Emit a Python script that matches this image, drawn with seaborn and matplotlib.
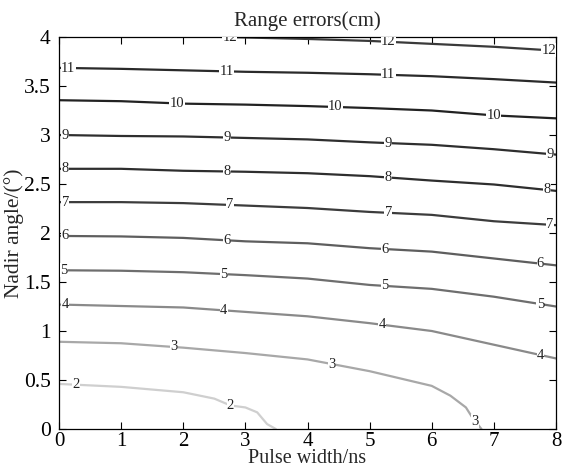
import seaborn as sns
import matplotlib.pyplot as plt
import pandas as pd
import numpy as np

## contour lines of range error (nadir angle in deg at each pulse width)
pulse_width = [0, 1, 2, 3, 4, 5, 6, 7, 8]
level_12 = [4.05, 4.03, 4.01, 3.995, 3.98, 3.96, 3.93, 3.90, 3.86]
level_11 = [3.685, 3.675, 3.66, 3.645, 3.635, 3.62, 3.60, 3.57, 3.535]
level_10 = [3.355, 3.345, 3.32, 3.31, 3.295, 3.275, 3.25, 3.20, 3.17]
level_9 = [3.0, 2.99, 2.985, 2.97, 2.955, 2.925, 2.90, 2.855, 2.80]
level_8 = [2.655, 2.655, 2.635, 2.625, 2.61, 2.58, 2.535, 2.495, 2.43]
level_7 = [2.315, 2.315, 2.305, 2.28, 2.255, 2.215, 2.185, 2.12, 2.08]
level_6 = [1.97, 1.965, 1.95, 1.915, 1.895, 1.845, 1.81, 1.74, 1.67]
level_5 = [1.62, 1.615, 1.60, 1.57, 1.535, 1.47, 1.43, 1.35, 1.25]
level_4 = [1.27, 1.255, 1.24, 1.195, 1.15, 1.08, 1.0, 0.86, 0.72]
# the two lowest levels bend down to the x axis
pulse_width_3 = [0, 1, 2, 3, 4, 5, 6, 6.3, 6.55, 6.65, 6.8]
level_3 = [0.89, 0.875, 0.83, 0.775, 0.71, 0.59, 0.44, 0.34, 0.22, 0.12, 0.0]
pulse_width_2 = [0, 1, 2, 2.5, 2.76, 3, 3.19, 3.35, 3.49]
level_2 = [0.46, 0.43, 0.375, 0.31, 0.24, 0.22, 0.17, 0.05, 0.0]

## where the inline labels sit (pulse width)
label_x_12 = [2.75, 5.3, 7.88]
label_x_11 = [0.15, 2.7, 5.3]
label_x_10 = [1.9, 4.45, 7.0]
label_x_9 = [0.1, 2.7, 5.3, 7.9]
label_x_8 = [0.1, 2.7, 5.3, 7.85]
label_x_7 = [0.1, 2.75, 5.3, 7.9]
label_x_6 = [0.1, 2.7, 5.25, 7.75]
label_x_5 = [0.08, 2.65, 5.25, 7.75]
label_x_4 = [0.1, 2.65, 5.2, 7.75]
label_x_3 = [1.85, 4.4, 6.7]
label_x_2 = [0.27, 2.76]

lines = {
    12: (pulse_width, level_12, label_x_12),
    11: (pulse_width, level_11, label_x_11),
    10: (pulse_width, level_10, label_x_10),
    9: (pulse_width, level_9, label_x_9),
    8: (pulse_width, level_8, label_x_8),
    7: (pulse_width, level_7, label_x_7),
    6: (pulse_width, level_6, label_x_6),
    5: (pulse_width, level_5, label_x_5),
    4: (pulse_width, level_4, label_x_4),
    3: (pulse_width_3, level_3, label_x_3),
    2: (pulse_width_2, level_2, label_x_2),
}

rows = []
for lev, (xs, ys, _) in lines.items():
    for i, (x, y) in enumerate(zip(xs, ys)):
        rows.append({'level': lev, 'order': i, 'pulse': x, 'angle': y})
df = pd.DataFrame(rows)

## grey levels: light for small errors, dark for large ones
grey = {2: '#cfcfcf', 3: '#a8a8a8', 4: '#8a8a8a', 5: '#6e6e6e', 6: '#5e5e5e',
        7: '#3c3c3c', 8: '#2e2e2e', 9: '#2e2e2e', 10: '#222222', 11: '#2a2a2a', 12: '#3a3a3a'}

sns.set_style('white')
plt.rcParams['font.family'] = ['Liberation Serif', 'DejaVu Serif']

fig = plt.figure(figsize=(5.64, 4.67), dpi=100)
ax = fig.add_axes([59 / 564, 1 - 429 / 467, 497 / 564, 392 / 467])

sns.lineplot(data=df, x='pulse', y='angle', hue='level', palette=grey, sort=False,
             estimator=None, units='level', linewidth=1.6, legend=False, ax=ax)

for lev, (xs, ys, lx) in lines.items():
    for x in lx:
        ax.text(x, np.interp(x, xs, ys), str(lev), fontsize=10.5, color='#222222',
                ha='center', va='center', clip_on=True,
                bbox=dict(facecolor='white', edgecolor='none', pad=0.2))

ax.set_xlim(0, 8)
ax.set_ylim(0, 4)
ax.set_xticks(range(0, 9))
ax.set_yticks(np.arange(0, 4.01, 0.5))
ax.set_yticklabels(['0', '0.5', '1', '1.5', '2', '2.5', '3', '3.5', '4'])
ax.tick_params(direction='in', length=5, width=0.8, labelsize=15.5, pad=6,
               top=True, right=True, bottom=True, left=True, colors='black')
ax.tick_params(axis='x', pad=2, labelsize=15)
for s in ax.spines.values():
    s.set_color('black')
    s.set_linewidth(0.9)

ax.set_title('Range errors(cm)', fontsize=15, pad=8)
ax.set_xlabel('Pulse width/ns', fontsize=14.5)
ax.set_ylabel('Nadir angle/(°)', fontsize=15.5)
ax.xaxis.set_label_coords(0.5, -0.05)
ax.yaxis.set_label_coords(-0.07, 0.5)

plt.savefig('out.png', dpi=100)
